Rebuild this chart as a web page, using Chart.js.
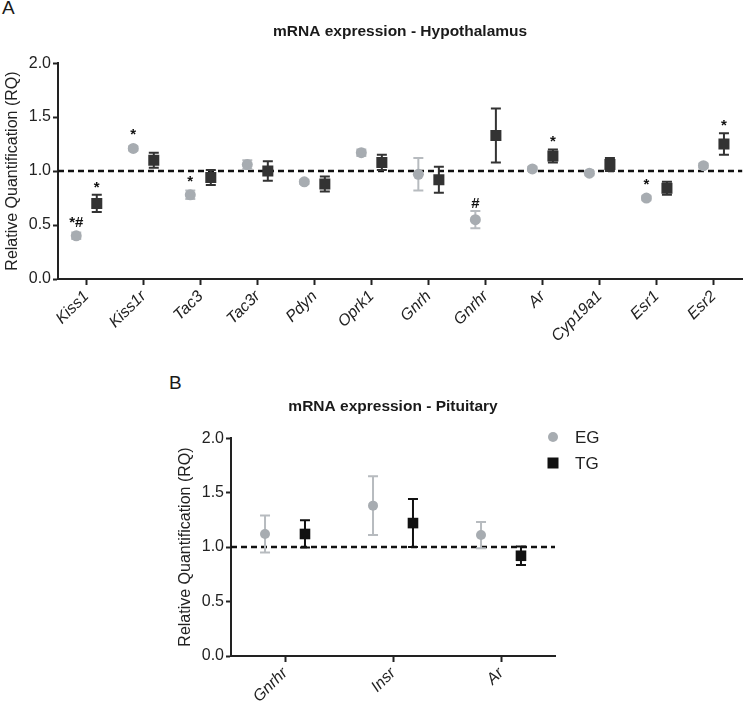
<!DOCTYPE html>
<html>
<head>
<meta charset="utf-8">
<script src="https://cdn.jsdelivr.net/npm/chart.js@4.4.1/dist/chart.umd.min.js"></script>
<style>
  body { margin: 0; background: #fff; }
  #wrap { position: relative; width: 750px; height: 702px; font-family: 'Liberation Sans', Arial, sans-serif; }
  canvas { position: absolute; left: 0; }
  .panel { position: absolute; font-size: 19px; color: #1a1a1a; }
</style>
</head>
<body>
<div id="wrap">
  <div class="panel" style="left:2px; top:-3px;">A</div>
  <div class="panel" style="left:169px; top:372px;">B</div>
  <canvas id="hypo" width="750" height="375" style="top:0"></canvas>
  <canvas id="pit" width="750" height="327" style="top:375px"></canvas>
</div>
<script>
// data - hypothalamus
const hypoGenes = ['Kiss1', 'Kiss1r', 'Tac3', 'Tac3r', 'Pdyn', 'Oprk1', 'Gnrh', 'Gnrhr', 'Ar', 'Cyp19a1', 'Esr1', 'Esr2'];
const hypoEG = [0.40, 1.21, 0.78, 1.06, 0.90, 1.17, 0.97, 0.55, 1.02, 0.98, 0.75, 1.05];
const hypoEGerr = [0.03, 0.02, 0.04, 0.04, 0.02, 0.03, 0.15, 0.08, 0.02, 0.02, 0.02, 0.02];
const hypoTG = [0.70, 1.10, 0.94, 1.00, 0.88, 1.08, 0.92, 1.33, 1.14, 1.06, 0.84, 1.25];
const hypoTGerr = [0.08, 0.07, 0.07, 0.09, 0.07, 0.07, 0.12, 0.25, 0.06, 0.06, 0.06, 0.10];
const hypoEGmarks = ['*#', '*', '*', '', '', '', '', '#', '', '', '*', ''];
const hypoTGmarks = ['*', '', '', '', '', '', '', '', '*', '', '', '*'];

// data - pituitary
const pitGenes = ['Gnrhr', 'Insr', 'Ar'];
const pitEG = [1.12, 1.38, 1.11];
const pitEGerr = [0.17, 0.27, 0.12];
const pitTG = [1.12, 1.22, 0.92];
const pitTGerr = [0.125, 0.22, 0.085];

const groups = ['EG', 'TG'];
const yTicks = [0, 0.5, 1.0, 1.5, 2.0];
const refLine = 1.0;

Chart.defaults.font.family = "'Liberation Sans', Arial, sans-serif";
Chart.defaults.color = '#222';

const egColor = '#a7acb1';
const egErrColor = '#b7bbbf';

// dashed line at 1.0, error bars, significance marks
const extras = {
    id: 'extras',
    beforeDatasetsDraw(chart) {
        const ctx = chart.ctx;
        const area = chart.chartArea;
        const ys = chart.scales.y;
        const y0 = ys.getPixelForValue(refLine);
        ctx.save();
        ctx.strokeStyle = '#111';
        ctx.lineWidth = 2.5;
        ctx.setLineDash([6, 4]);
        ctx.beginPath();
        ctx.moveTo(area.left, y0);
        ctx.lineTo(area.right, y0);
        ctx.stroke();
        ctx.setLineDash([]);
        chart.data.datasets.forEach((ds, d) => {
            const meta = chart.getDatasetMeta(d);
            ctx.strokeStyle = ds.errColor;
            ctx.lineWidth = 2;
            meta.data.forEach((pt, i) => {
                const v = ds.data[i].y, e = ds.err[i];
                const top = ys.getPixelForValue(v + e);
                const bot = ys.getPixelForValue(v - e);
                ctx.beginPath();
                ctx.moveTo(pt.x, top);
                ctx.lineTo(pt.x, bot);
                ctx.moveTo(pt.x - 5, top);
                ctx.lineTo(pt.x + 5, top);
                ctx.moveTo(pt.x - 5, bot);
                ctx.lineTo(pt.x + 5, bot);
                ctx.stroke();
            });
        });
        ctx.restore();
    },
    afterDatasetsDraw(chart) {
        const ctx = chart.ctx;
        const ys = chart.scales.y;
        ctx.save();
        ctx.fillStyle = '#111';
        ctx.font = "bold 15px 'Liberation Sans', Arial, sans-serif";
        ctx.textAlign = 'center';
        ctx.textBaseline = 'alphabetic';
        chart.data.datasets.forEach((ds, d) => {
            if (!ds.marks) return;
            const meta = chart.getDatasetMeta(d);
            meta.data.forEach((pt, i) => {
                if (!ds.marks[i]) return;
                const top = Math.min(ys.getPixelForValue(ds.data[i].y + ds.err[i]), pt.y - 6);
                ctx.fillText(ds.marks[i], pt.x, top - 3);
            });
        });
        ctx.restore();
    }
};

const legendPlugin = {
    id: 'sideLegend',
    afterDraw(chart) {
        const ctx = chart.ctx;
        const x = 553;
        ctx.save();
        chart.data.datasets.forEach((ds, d) => {
            const y = 62 + d * 26;
            ctx.fillStyle = ds.backgroundColor;
            ctx.beginPath();
            if (ds.pointStyle === 'circle') {
                ctx.arc(x, y, 5, 0, Math.PI * 2);
            } else {
                ctx.rect(x - 5.5, y - 5.5, 11, 11);
            }
            ctx.fill();
            ctx.fillStyle = '#222';
            ctx.font = "17px 'Liberation Sans', Arial, sans-serif";
            ctx.textBaseline = 'middle';
            ctx.fillText(ds.label, x + 22, y + 1);
        });
        ctx.restore();
    }
};

function makeOptions(genes, title, xHeight, pad) {
    return {
        responsive: false,
        animation: false,
        layout: { padding: pad },
        plugins: {
            legend: { display: false },
            tooltip: { enabled: false },
            title: {
                display: true,
                text: title,
                fullSize: false,
                font: { size: 15.5, weight: 'bold' },
                color: '#1a1a1a',
                padding: { top: 22.5, bottom: 22 }
            }
        },
        scales: {
            x: {
                type: 'linear',
                min: -0.5,
                max: genes.length - 0.5,
                afterBuildTicks: s => { s.ticks = genes.map((g, i) => ({ value: i })); },
                afterFit: s => { s.height = xHeight; },
                ticks: {
                    autoSkip: false,
                    maxRotation: 45,
                    minRotation: 45,
                    callback: v => genes[v],
                    font: { size: 16, style: 'italic' },
                    color: '#222',
                    padding: 2
                },
                grid: { drawOnChartArea: false, drawTicks: true, tickLength: 6, tickColor: '#222', tickWidth: 2 },
                border: { color: '#222', width: 2 }
            },
            y: {
                min: 0,
                max: 2,
                afterBuildTicks: s => { s.ticks = yTicks.map(v => ({ value: v })); },
                afterFit: s => { s.width = 58; },
                ticks: {
                    callback: v => v.toFixed(1),
                    font: { size: 16 },
                    color: '#222',
                    padding: 2
                },
                grid: { drawOnChartArea: false, drawTicks: true, tickLength: 5, tickColor: '#222', tickWidth: 2 },
                border: { color: '#222', width: 2 },
                title: {
                    display: true,
                    text: 'Relative Quantification (RQ)',
                    font: { size: 16 },
                    color: '#222',
                    padding: { top: 3, bottom: 0 }
                }
            }
        }
    };
}

function makeData(genes, eg, egErr, tg, tgErr, tgColor, egMarks, tgMarks, shift, r) {
    return {
        datasets: [{
            label: groups[0],
            data: genes.map((g, i) => ({ x: i - shift, y: eg[i] })),
            err: egErr,
            marks: egMarks,
            errColor: egErrColor,
            pointStyle: 'circle',
            pointRadius: r[0],
            backgroundColor: egColor,
            borderColor: egColor,
            borderWidth: 0
        }, {
            label: groups[1],
            data: genes.map((g, i) => ({ x: i + shift, y: tg[i] })),
            err: tgErr,
            marks: tgMarks,
            errColor: tgColor,
            pointStyle: 'rect',
            pointRadius: r[1],
            backgroundColor: tgColor,
            borderColor: tgColor,
            borderWidth: 0
        }]
    };
}

new Chart(document.getElementById('hypo'), {
    type: 'scatter',
    data: makeData(hypoGenes, hypoEG, hypoEGerr, hypoTG, hypoTGerr, '#333', hypoEGmarks, hypoTGmarks, 0.18, [5.5, 7.8]),
    options: makeOptions(hypoGenes, 'mRNA expression - Hypothalamus', 96, { left: 0, right: 2, top: 0, bottom: 0 }),
    plugins: [extras]
});

new Chart(document.getElementById('pit'), {
    type: 'scatter',
    data: makeData(pitGenes, pitEG, pitEGerr, pitTG, pitTGerr, '#111', null, null, 0.185, [5, 7.5]),
    options: makeOptions(pitGenes, 'mRNA expression - Pituitary', 46, { left: 173, right: 195, top: 0, bottom: 0 }),
    plugins: [extras, legendPlugin]
});
</script>
</body>
</html>
